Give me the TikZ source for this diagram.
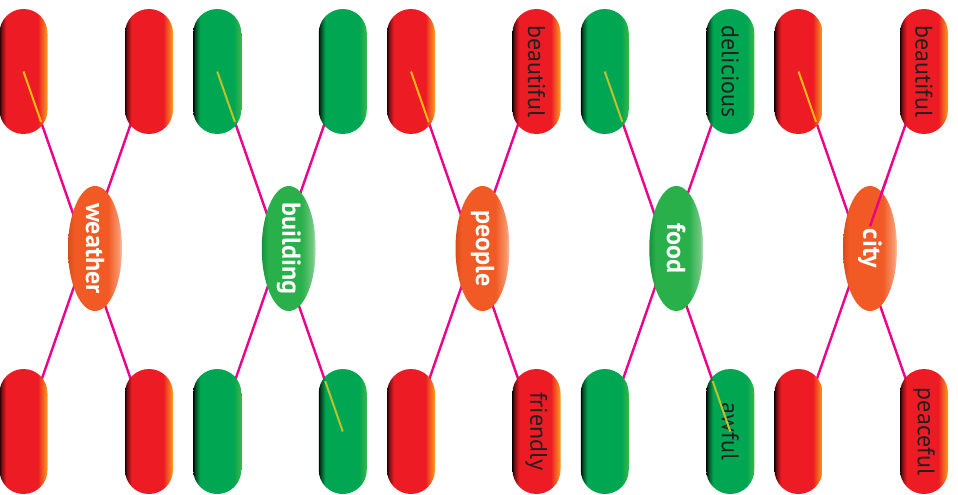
\documentclass[tikz,border=0pt]{standalone}
\usepackage{fontspec}
\setmainfont{PT Sans}
\usepackage{graphicx}
\usetikzlibrary{shapes.geometric,backgrounds,calc}

\definecolor{redbase}{HTML}{ED1C24}
\definecolor{reddark}{HTML}{1A0000}
\definecolor{redmaroon}{HTML}{7A0C12}
\definecolor{redorange}{HTML}{F47920}
\definecolor{redamber}{HTML}{F9A21B}
\definecolor{greenbase}{HTML}{00A651}
\definecolor{greendark}{HTML}{000A04}
\definecolor{greendeep}{HTML}{004A24}
\definecolor{greenlight}{HTML}{3DB54A}
\definecolor{hubredbase}{HTML}{F15A24}
\definecolor{hubredlow}{HTML}{DA4C1C}
\definecolor{hubredhigh}{HTML}{F6976D}
\definecolor{hubredtop}{HTML}{FBC6AC}
\definecolor{hubgreenbase}{HTML}{2AB04A}
\definecolor{hubgreenlow}{HTML}{16933A}
\definecolor{hubgreenhigh}{HTML}{73C783}
\definecolor{hubgreentop}{HTML}{C3E6C9}
\definecolor{linkpink}{HTML}{EC008C}
\definecolor{glintred}{HTML}{FDBA12}
\definecolor{glintgreen}{HTML}{BDC22E}
\definecolor{ink}{HTML}{231F20}

\pgfdeclarehorizontalshading{pillred}{100bp}{color(0bp)=(reddark); color(25bp)=(reddark);
  color(27bp)=(redmaroon); color(32bp)=(redbase); color(65bp)=(redbase);
  color(72bp)=(redorange); color(75bp)=(redamber); color(100bp)=(redamber)}
\pgfdeclarehorizontalshading{pillgreen}{100bp}{color(0bp)=(greendark); color(25bp)=(greendark);
  color(27bp)=(greendeep); color(32bp)=(greenbase); color(67bp)=(greenbase);
  color(75bp)=(greenlight); color(100bp)=(greenlight)}
\pgfdeclarehorizontalshading{hubred}{100bp}{color(0bp)=(hubredlow); color(25bp)=(hubredlow);
  color(31bp)=(hubredbase); color(62bp)=(hubredbase); color(72bp)=(hubredhigh);
  color(75bp)=(hubredtop); color(100bp)=(hubredtop)}
\pgfdeclarehorizontalshading{hubgreen}{100bp}{color(0bp)=(hubgreenlow); color(25bp)=(hubgreenlow);
  color(31bp)=(hubgreenbase); color(62bp)=(hubgreenbase); color(72bp)=(hubgreenhigh);
  color(75bp)=(hubgreentop); color(100bp)=(hubgreentop)}

\begin{document}
\begin{tikzpicture}[
       x=1pt, y=-1pt,
       pill/.style={rectangle, rounded corners=24pt, minimum width=48pt, minimum height=125pt,
                    inner sep=0pt, font=\fontsize{24}{24}\selectfont, text=ink},
       hub/.style={ellipse, minimum width=54pt, minimum height=125pt, inner sep=0pt,
                   font=\bfseries\fontsize{26}{26}\selectfont, text=white},
       link/.style={draw=linkpink, line width=2.4pt},
       glint/.style={line width=2pt}
   ]
   \useasboundingbox (0,0) rectangle (958,495);

   \foreach \i/\word/\col/\up/\down in {0/weather/red/{}/{}, 1/building/green/{}/{},
           2/people/red/beautiful/friendly, 3/food/green/delicious/awful, 4/city/red/beautiful/peaceful} {
       \pgfmathsetmacro{\gx}{193.75*\i}
       \node[pill, shading=pill\col] (tl\i) at (\gx+23.5, 71.5) {};
       \node[pill, shading=pill\col] (tr\i) at (\gx+149, 71.5) {\rotatebox{-90}{\up}};
       \node[pill, shading=pill\col] (bl\i) at (\gx+23.5, 431.5) {};
       \node[pill, shading=pill\col] (br\i) at (\gx+149, 431.5) {\rotatebox{-90}{\down}};
       \node[hub, shading=hub\col] (hub\i) at (\gx+95, 248.5) {\rotatebox{-90}{\makebox[0pt]{\word}}};
       \begin{scope}[on background layer]
           \draw[link] (tl\i.center) -- (br\i.center);
           \draw[link] (tr\i.center) -- (bl\i.center);
       \end{scope}
       \draw[glint, draw=glint\col] (tl\i.center) -- ($(tl\i.center)!0.14!(br\i.center)$);
   }

   \foreach \i in {1,3} {
       \draw[glint, draw=glintgreen] ($(br\i.center)!0.14!(tl\i.center)$) -- (br\i.center);
   }
   \draw[link] ($(tr4.center)!0.3!(bl4.center)$) -- ($(tr4.center)!0.43!(bl4.center)$);
   \end{tikzpicture}
\end{document}
